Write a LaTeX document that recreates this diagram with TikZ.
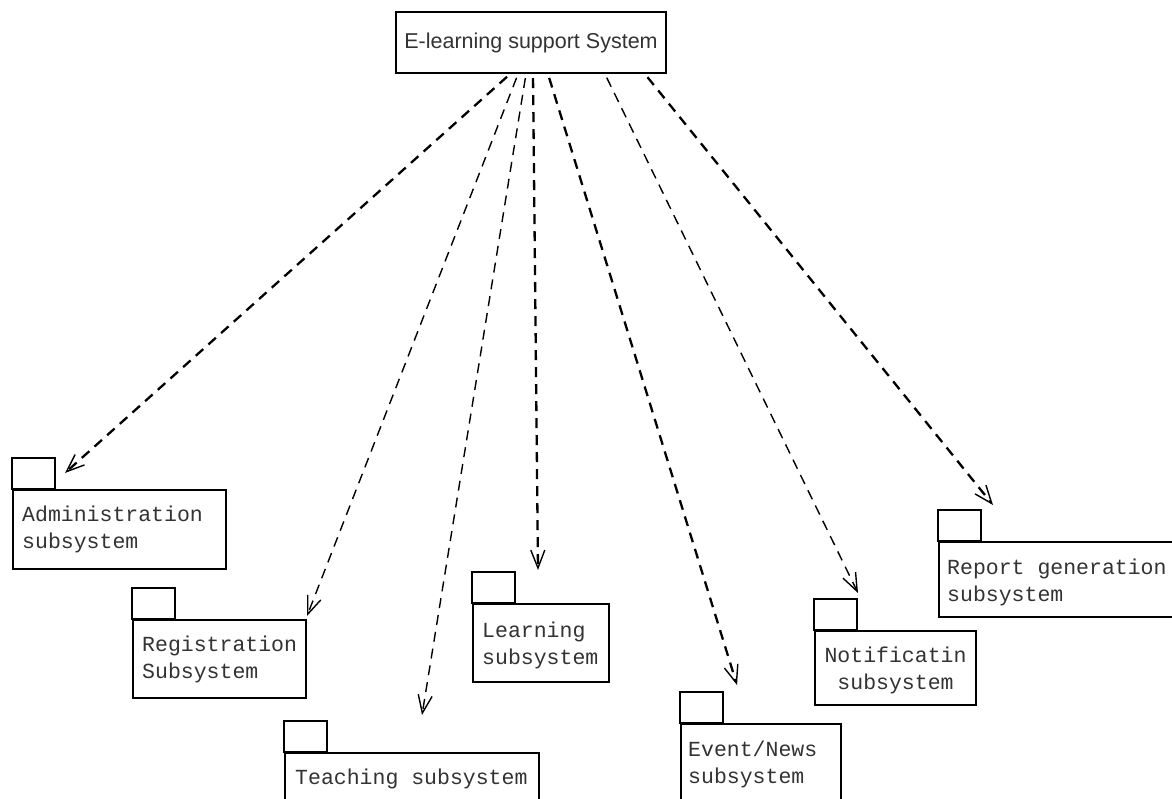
\documentclass[tikz,border=0pt]{standalone}
\usepackage{fontspec}
\usetikzlibrary{arrows.meta}
\newfontfamily\sysfont{Liberation Sans}
\newfontfamily\pkgfont{Liberation Mono}

\tikzset{
  pkgbox/.style={draw, line width=2pt, anchor=north west, inner sep=0pt},
  pkgtext/.style={anchor=north west, inner sep=0pt, align=left, text=black!80,
    font=\pkgfont\fontsize{21.5}{27}\selectfont},
  dep/.style={dash pattern=on 10pt off 7pt, line width=2.3pt, shorten <=4pt,
    -{Straight Barb[length=18pt,width=14pt,line width=1.4pt]}},
  thindep/.style={dep, line width=1.4pt},
}
\newcommand{\pkgtab}[1]{\draw[line width=2pt] (#1.north west) rectangle ++(43,-31);}

\begin{document}
\begin{tikzpicture}[x=1pt,y=-1pt]
  \path[fill=white, use as bounding box] (0,0) rectangle (1172,799);

  \node[draw, line width=2.2pt, minimum width=270pt, minimum height=61pt, inner sep=0pt,
    font=\sysfont\fontsize{21.5}{26}\selectfont, text=black!80] (sys) at (531,42.5) {E-learning support System};

  % packages
  \node[pkgbox, minimum width=213pt, minimum height=79pt] (adm) at (12,489) {};
  \pkgtab{adm}
  \node[pkgtext] (admtext) at ([shift={(10,17)}]adm.north west) {Administration\\subsystem};

  \node[pkgbox, minimum width=173pt, minimum height=78pt] (reg) at (132,619) {};
  \pkgtab{reg}
  \node[pkgtext] (regtext) at ([shift={(10,17)}]reg.north west) {Registration\\Subsystem};

  \node[pkgbox, minimum width=254pt, minimum height=70pt] (tea) at (284,752) {};
  \pkgtab{tea}
  \node[pkgtext] (teatext) at ([shift={(11,17)}]tea.north west) {Teaching subsystem};

  \node[pkgbox, minimum width=136pt, minimum height=78pt] (lea) at (472,603) {};
  \pkgtab{lea}
  \node[pkgtext] (leatext) at ([shift={(10,19)}]lea.north west) {Learning\\subsystem};

  \node[pkgbox, minimum width=160pt, minimum height=90pt] (evt) at (680,723) {};
  \pkgtab{evt}
  \node[pkgtext] (evttext) at ([shift={(8,18)}]evt.north west) {Event/News\\subsystem};

  \node[pkgbox, minimum width=161pt, minimum height=74pt] (ntf) at (814,630) {};
  \pkgtab{ntf}
  \node[pkgtext, anchor=north, align=center] (ntftext) at ([yshift=-17pt]ntf.north) {Notificatin\\subsystem};

  \node[pkgbox, minimum width=245pt, minimum height=75pt] (rep) at (938,541) {};
  \pkgtab{rep}
  \node[pkgtext] (reptext) at ([shift={(9,18)}]rep.north west) {Report generation\\subsystem};

  % arrow ends
  \coordinate (admtip) at ([shift={(53,-16)}]adm.north west);
  \coordinate (regtip) at ([shift={(0,-3)}]reg.north east);
  \coordinate (teatip) at ([shift={(138,-37)}]tea.north west);
  \coordinate (leatip) at ([shift={(66,-33)}]lea.north west);
  \coordinate (evttip) at ([shift={(57,-38)}]evt.north west);
  \coordinate (ntftip) at ([shift={(44,-37)}]ntf.north west);
  \coordinate (reptip) at ([shift={(55,-36)}]rep.north west);

  \draw[dep] ([xshift=-21pt]sys.south) -- (admtip);
  \draw[thindep] ([xshift=-13pt]sys.south) -- (regtip);
  \draw[thindep] ([xshift=-5pt]sys.south) -- (teatip);
  \draw[dep] ([xshift=2pt]sys.south) -- (leatip);
  \draw[dep] ([xshift=17pt]sys.south) -- (evttip);
  \draw[thindep] ([xshift=74pt]sys.south) -- (ntftip);
  \draw[dep] ([xshift=114pt]sys.south) -- (reptip);
\end{tikzpicture}
\end{document}
